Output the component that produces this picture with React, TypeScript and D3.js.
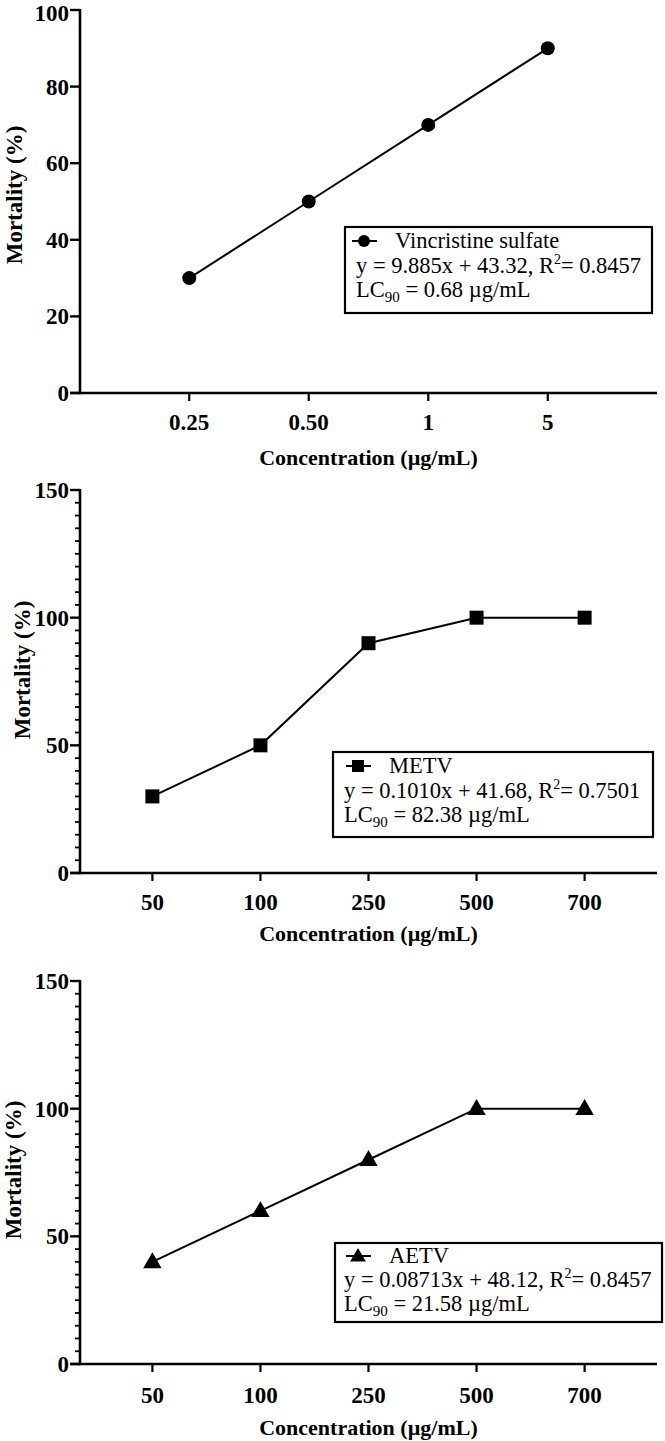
import React from "react";
import * as d3 from "d3";

// ---- Data ----
const vincristineConc = ["0.25", "0.50", "1", "5"];
const vincristineMortality = [30, 50, 70, 90];

const extractConc = ["50", "100", "250", "500", "700"];
const metvMortality = [30, 50, 90, 100, 100];
const aetvMortality = [40, 60, 80, 100, 100];

const yTicksPanel1 = [0, 20, 40, 60, 80, 100];
const yTicksPanel23 = [0, 50, 100, 150];

const FONT = "'Liberation Serif', 'Times New Roman', serif";

type PanelProps = {
  cats: string[];
  values: number[];
  yMax: number;
  yTicks: number[];
  minorStep: number | null;
  top: number;
  bottom: number;
  xPad: number;
  marker: "circle" | "square" | "triangle";
  tickBase: number;
  titleBase: number;
  yTitleX: number;
  yTitleY: number;
  legend: { x: number; y: number; w: number; h: number; labelX: number; textX: number; base: number; gap: number };
  name: string;
  eq: [string, string];
  lc: string;
};

const LEFT = 80;
const RIGHT = 657;

function Marker({ type, x, y, s }: { type: string; x: number; y: number; s: number }) {
  if (type === "circle") return <circle cx={x} cy={y} r={s / 2} fill="#000" />;
  if (type === "square") return <rect x={x - s / 2} y={y - s / 2} width={s} height={s} fill="#000" />;
  const sym = d3.symbol(d3.symbolTriangle, s * s * 0.75)();
  return <path d={sym || ""} transform={`translate(${x},${y + 1})`} fill="#000" />;
}

function Panel(p: PanelProps) {
  const x = d3.scalePoint<string>().domain(p.cats).range([LEFT, RIGHT]).padding(p.xPad);
  const y = d3.scaleLinear().domain([0, p.yMax]).range([p.bottom, p.top]);
  const line = d3
    .line<number>()
    .x((_, i) => x(p.cats[i]) as number)
    .y((v) => y(v));
  const minors: number[] = [];
  if (p.minorStep) {
    for (let v = 0; v <= p.yMax; v += p.minorStep) if (!p.yTicks.includes(v)) minors.push(v);
  }
  const L = p.legend;
  return (
    <g>
      {/* y axis */}
      <line x1={LEFT} x2={LEFT} y1={p.top - 1} y2={p.bottom + 1.2} stroke="#000" strokeWidth={2.6} />
      {p.yTicks.map((t) => (
        <g key={t}>
          <line x1={LEFT - 10} x2={LEFT} y1={y(t)} y2={y(t)} stroke="#000" strokeWidth={2.4} />
          <text
            x={LEFT - 11}
            y={Math.max(y(t), 12.5)}
            dy="0.35em"
            textAnchor="end"
            fontFamily={FONT}
            fontWeight="bold"
            fontSize={23}
          >
            {t}
          </text>
        </g>
      ))}
      {minors.map((t) => (
        <line key={"m" + t} x1={LEFT - 5} x2={LEFT} y1={y(t)} y2={y(t)} stroke="#000" strokeWidth={1.8} />
      ))}
      {/* x axis */}
      <line x1={LEFT - 10} x2={RIGHT} y1={p.bottom} y2={p.bottom} stroke="#000" strokeWidth={2.6} />
      {p.cats.map((c) => (
        <g key={c}>
          <line x1={x(c)} x2={x(c)} y1={p.bottom} y2={p.bottom + 8} stroke="#000" strokeWidth={2.2} />
          <text x={x(c)} y={p.tickBase} textAnchor="middle" fontFamily={FONT} fontWeight="bold" fontSize={23}>
            {c}
          </text>
        </g>
      ))}
      <text x={(LEFT + RIGHT) / 2} y={p.titleBase} textAnchor="middle" fontFamily={FONT} fontWeight="bold" fontSize={22}>
        Concentration (µg/mL)
      </text>
      <text
        transform={`translate(${p.yTitleX},${p.yTitleY}) rotate(-90)`}
        dy="0.35em"
        textAnchor="middle"
        fontFamily={FONT}
        fontWeight="bold"
        fontSize={23}
      >
        Mortality (%)
      </text>
      {/* data */}
      <path d={line(p.values) || ""} fill="none" stroke="#000" strokeWidth={2} />
      {p.values.map((v, i) => (
        <Marker key={i} type={p.marker} x={x(p.cats[i]) as number} y={y(v)} s={14} />
      ))}
      {/* legend */}
      <rect x={L.x} y={L.y} width={L.w} height={L.h} fill="#fff" stroke="#000" strokeWidth={2.2} />
      <line x1={L.labelX - 12} x2={L.labelX + 13} y1={L.base - 7} y2={L.base - 7} stroke="#000" strokeWidth={2} />
      <Marker type={p.marker} x={L.labelX} y={L.base - 7} s={12} />
      <text x={L.labelX + 31} y={L.base} fontFamily={FONT} fontSize={22.5}>
        {p.name}
      </text>
      <text x={L.textX} y={L.base + L.gap} fontFamily={FONT} fontSize={22.5}>
        {p.eq[0]}
        <tspan dy={-9} fontSize={14}>2</tspan>
        <tspan dy={9}>{p.eq[1]}</tspan>
      </text>
      <text x={L.textX} y={L.base + 2 * L.gap} fontFamily={FONT} fontSize={22.5}>
        LC
        <tspan dy={5} fontSize={15}>90</tspan>
        <tspan dy={-5}>{" = " + p.lc}</tspan>
      </text>
    </g>
  );
}

export default function App() {
  return (
    <svg width={665} height={1441} style={{ position: "absolute", left: 0, top: 0, background: "#fff" }}>
      <rect width={665} height={1441} fill="#fff" />
      <Panel
        cats={vincristineConc}
        values={vincristineMortality}
        yMax={100}
        yTicks={yTicksPanel1}
        minorStep={null}
        top={10}
        bottom={393}
        xPad={0.914}
        marker="circle"
        tickBase={430}
        titleBase={465}
        yTitleX={14}
        yTitleY={195}
        legend={{ x: 345, y: 227, w: 307, h: 86, labelX: 364, textX: 356, base: 248, gap: 24.5 }}
        name="Vincristine sulfate"
        eq={["y = 9.885x + 43.32, R", "= 0.8457"]}
        lc="0.68 µg/mL"
      />
      <Panel
        cats={extractConc}
        values={metvMortality}
        yMax={150}
        yTicks={yTicksPanel23}
        minorStep={5}
        top={490}
        bottom={873}
        xPad={0.67}
        marker="square"
        tickBase={910}
        titleBase={941}
        yTitleX={22}
        yTitleY={670}
        legend={{ x: 333, y: 752, w: 320, h: 85, labelX: 358, textX: 344, base: 773, gap: 24.5 }}
        name="METV"
        eq={["y = 0.1010x + 41.68, R", "= 0.7501"]}
        lc="82.38 µg/mL"
      />
      <Panel
        cats={extractConc}
        values={aetvMortality}
        yMax={150}
        yTicks={yTicksPanel23}
        minorStep={5}
        top={981}
        bottom={1364}
        xPad={0.67}
        marker="triangle"
        tickBase={1403}
        titleBase={1435}
        yTitleX={13}
        yTitleY={1170}
        legend={{ x: 335, y: 1243, w: 327, h: 79, labelX: 358, textX: 344, base: 1263, gap: 24 }}
        name="AETV"
        eq={["y = 0.08713x + 48.12, R", "= 0.8457"]}
        lc="21.58 µg/mL"
      />
    </svg>
  );
}
